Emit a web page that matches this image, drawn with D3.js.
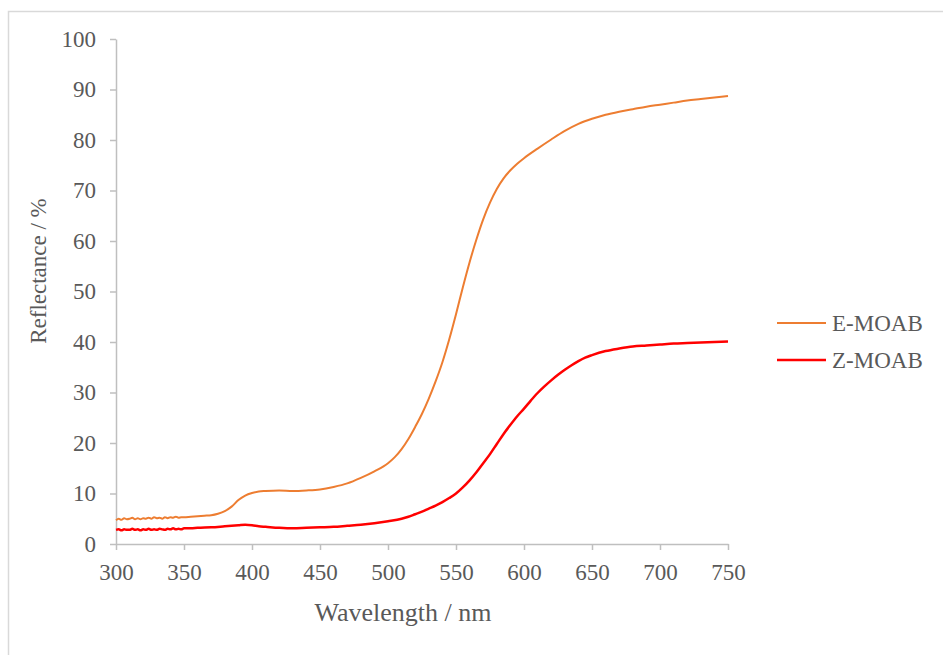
<!DOCTYPE html>
<html>
<head>
<meta charset="utf-8">
<script src="https://cdn.jsdelivr.net/npm/d3@7"></script>
<style>
  html, body { margin: 0; padding: 0; background: #fff; }
  svg { display: block; }
</style>
</head>
<body>
<svg id="chart" width="943" height="655"></svg>
<script>
// ---- data ----
const seriesNames = ["E-MOAB", "Z-MOAB"];
const xTicks = [300, 350, 400, 450, 500, 550, 600, 650, 700, 750];
const yTicks = [0, 10, 20, 30, 40, 50, 60, 70, 80, 90, 100];

const wavelengthE = [300,302,304,306,308,310,312,314,316,318,320,322,324,326,328,330,332,334,336,338,340,342,344,346,348,350,355,360,365,370,375,380,385,390,395,400,405,410,420,430,440,450,460,470,480,490,500,505,510,515,520,525,530,535,540,545,550,555,560,565,570,575,580,585,590,595,600,610,620,630,640,650,660,670,680,690,700,710,720,730,740,750];
const reflectanceE = [4.7,5.0,4.8,5.1,4.9,5.0,5.2,4.9,5.1,4.9,5.1,5.0,5.2,5.0,5.3,5.1,5.2,5.0,5.3,5.1,5.3,5.2,5.4,5.2,5.3,5.3,5.4,5.5,5.6,5.7,6.0,6.5,7.4,8.7,9.6,10.1,10.4,10.5,10.6,10.5,10.6,10.8,11.3,12.0,13.1,14.4,16.0,17.2,18.8,20.8,23.2,25.8,28.8,32.2,36.0,40.5,45.5,50.8,55.8,60.3,64.3,67.6,70.3,72.4,74.0,75.3,76.4,78.3,80.1,81.8,83.2,84.2,85.0,85.6,86.1,86.6,87.0,87.4,87.8,88.1,88.4,88.7];

const wavelengthZ = [300,302,304,306,308,310,312,314,316,318,320,322,324,326,328,330,332,334,336,338,340,342,344,346,348,350,355,360,370,380,390,395,400,405,410,420,430,440,450,460,470,480,490,500,510,515,520,525,530,535,540,545,550,555,560,565,570,575,580,585,590,595,600,605,610,615,620,625,630,635,640,645,650,660,670,680,690,700,710,720,730,740,750];
const reflectanceZ = [2.8,2.9,2.7,2.9,2.8,2.8,3.0,2.8,2.9,2.7,2.9,2.8,3.0,2.8,2.9,2.8,3.0,2.9,2.8,3.0,2.9,3.1,2.9,3.0,2.9,3.1,3.1,3.2,3.3,3.5,3.7,3.8,3.7,3.5,3.4,3.2,3.1,3.2,3.3,3.4,3.6,3.8,4.1,4.5,5.0,5.4,5.9,6.4,7.0,7.6,8.3,9.1,10.0,11.2,12.6,14.2,16.0,17.8,19.8,21.8,23.6,25.3,26.8,28.4,29.9,31.2,32.4,33.5,34.5,35.4,36.2,36.9,37.4,38.2,38.7,39.1,39.3,39.5,39.7,39.8,39.9,40.0,40.1];

const colors = ["#ED7D31", "#FF0000"];
const widths = [2, 2.5];

// ---- layout ----
const svg = d3.select("#chart");
const x = d3.scaleLinear().domain([300, 750]).range([116, 728]);
const y = d3.scaleLinear().domain([0, 100]).range([544, 39]);
const font = "'Liberation Serif', 'Times New Roman', serif";
const textColor = "#595959";
const axisColor = "#BFBFBF";

// outer frame (cropped on right/bottom)
svg.append("path")
  .attr("d", "M8.5,700 L8.5,11.5 L950,11.5")
  .attr("fill", "none").attr("stroke", "#D9D9D9").attr("stroke-width", 1.5);

// x axis
const xAxis = svg.append("g").attr("transform", `translate(0,${y(0)})`)
  .call(d3.axisBottom(x).tickValues(xTicks).tickSize(6).tickSizeOuter(0).tickPadding(14));
// y axis
const yAxis = svg.append("g").attr("transform", `translate(${x(300)},0)`)
  .call(d3.axisLeft(y).tickValues(yTicks).tickSize(6).tickSizeOuter(0).tickPadding(14));

[xAxis, yAxis].forEach(g => {
  g.select(".domain").attr("stroke", axisColor).attr("stroke-width", 1.5);
  g.selectAll(".tick line").attr("stroke", axisColor).attr("stroke-width", 1.5);
  g.selectAll(".tick text").attr("fill", textColor)
    .style("font-family", font).style("font-size", "23px");
});

// series
const line = d3.line().x(d => x(d[0])).y(d => y(d[1])).curve(d3.curveMonotoneX);
const dataE = wavelengthE.map((w, i) => [w, reflectanceE[i]]);
const dataZ = wavelengthZ.map((w, i) => [w, reflectanceZ[i]]);
[dataE, dataZ].forEach((d, i) => {
  svg.append("path").datum(d)
    .attr("fill", "none").attr("stroke", colors[i]).attr("stroke-width", widths[i])
    .attr("stroke-linejoin", "round").attr("d", line);
});

// axis titles
svg.append("text").attr("x", 403).attr("y", 621).attr("text-anchor", "middle")
  .attr("fill", textColor).style("font-family", font).style("font-size", "26px")
  .text("Wavelength / nm");
svg.append("text").attr("transform", "translate(46,271) rotate(-90)").attr("text-anchor", "middle")
  .attr("fill", textColor).style("font-family", font).style("font-size", "23px")
  .text("Reflectance / %");

// legend
seriesNames.forEach((name, i) => {
  const ly = 323 + i * 37;
  svg.append("line").attr("x1", 777).attr("x2", 826).attr("y1", ly).attr("y2", ly)
    .attr("stroke", colors[i]).attr("stroke-width", widths[i]);
  svg.append("text").attr("x", 832).attr("y", ly + 8)
    .attr("fill", textColor).style("font-family", font).style("font-size", "23px")
    .text(name);
});
</script>
</body>
</html>
